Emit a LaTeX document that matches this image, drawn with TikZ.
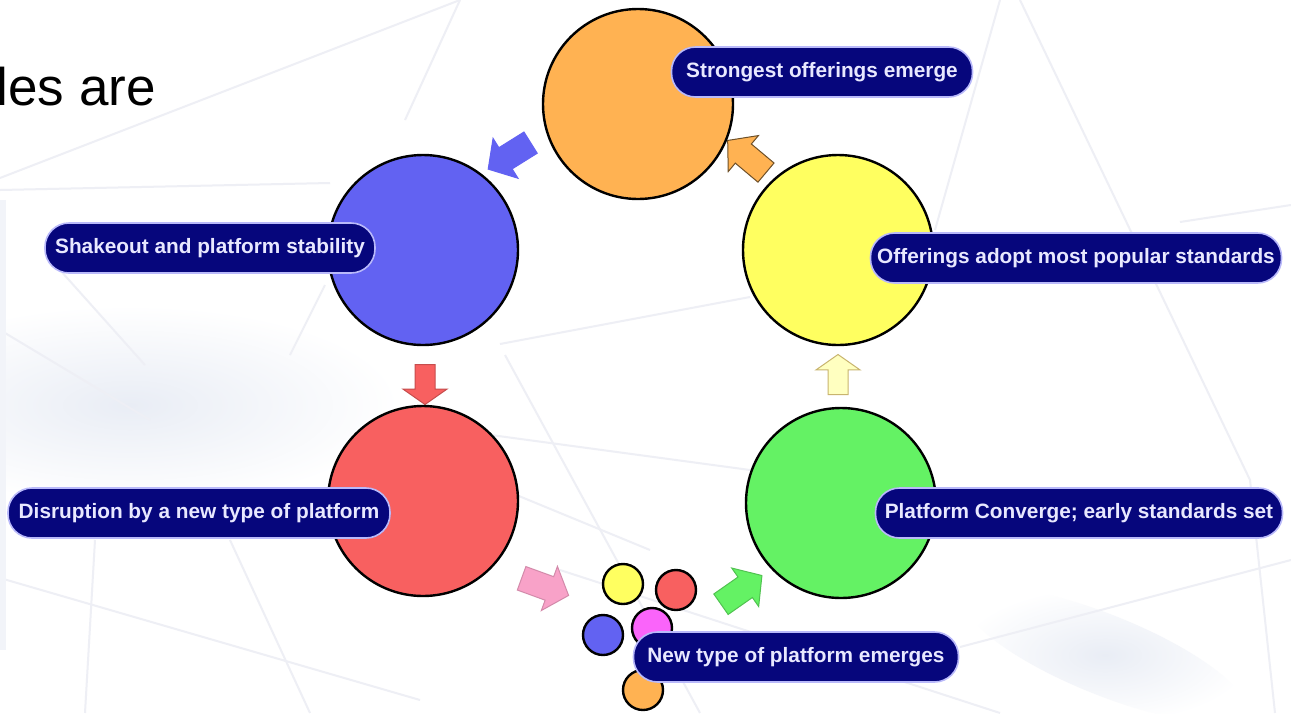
\documentclass[tikz,border=0pt]{standalone}
\usepackage{fontspec}
\setmainfont{Liberation Sans}
\usetikzlibrary{shapes.arrows}
\definecolor{navybox}{RGB}{6,6,124}
\definecolor{tagborder}{RGB}{185,185,250}
\definecolor{tagtext}{RGB}{232,232,255}
\definecolor{corange}{RGB}{255,178,82}
\definecolor{cblue}{RGB}{98,98,242}
\definecolor{cred}{RGB}{248,96,96}
\definecolor{cgreen}{RGB}{100,242,100}
\definecolor{cyellow}{RGB}{255,255,96}
\definecolor{cmagenta}{RGB}{250,100,250}
\definecolor{cpink}{RGB}{248,162,200}
\definecolor{apyellow}{RGB}{255,255,192}
\definecolor{bgline}{RGB}{238,239,245}
\definecolor{bgblue}{RGB}{233,237,245}
\begin{document}
\begin{tikzpicture}[x=1pt,y=-1pt,
  bubble/.style={circle, draw=black, line width=2.4pt, minimum size=190pt, inner sep=0pt},
  dot/.style={circle, draw=black, line width=2.4pt, minimum size=40pt, inner sep=0pt},
  tag/.style={rounded corners=24pt, fill=navybox, draw=tagborder, line width=1.6pt,
     text=tagtext, font=\bfseries\fontsize{20.8}{21}\selectfont, minimum height=50pt, inner sep=0pt},
  barrow/.style={single arrow, minimum height=50pt, inner xsep=0pt, inner ysep=12pt,
     single arrow head extend=11pt, single arrow tip angle=98, line width=1pt},
  varrow/.style={single arrow, minimum height=40pt, inner xsep=0pt, inner ysep=9.5pt,
     single arrow head extend=12pt, single arrow tip angle=110, line width=1pt},
  bgl/.style={draw=bgline, line width=2pt}]
\useasboundingbox (0,0) rectangle (1291,713);
\fill[white] (0,0) rectangle (1291,713);
% faint background
\shade[inner color=bgblue, outer color=white] (130,405) ellipse (270 and 100);
\shade[inner color=bgblue, outer color=white, rotate around={-22:(1105,655)}] (1105,655) ellipse (150 and 40);
\draw[bgl] (0,178) -- (460,0);
\draw[bgl] (460,0) -- (405,120);
\draw[bgl] (0,190) -- (330,183);
\draw[bgl] (0,330) -- (150,420);
\draw[bgl] (60,270) -- (145,365);
\draw[bgl] (325,285) -- (290,355);
\draw[bgl] (0,578) -- (420,700);
\draw[bgl] (95,540) -- (85,713);
\draw[bgl] (230,540) -- (310,713);
\draw[bgl] (500,344) -- (750,297);
\draw[bgl] (505,355) -- (700,713);
\draw[bgl] (380,420) -- (750,470);
\draw[bgl] (480,480) -- (650,550);
\draw[bgl] (1000,0) -- (935,230);
\draw[bgl] (1020,0) -- (1250,480) -- (1275,713);
\draw[bgl] (1180,222) -- (1291,205);
\draw[bgl] (960,647) -- (1291,560);
\draw[bgl] (560,570) -- (1000,713);
\fill[bgblue!60] (0,200) rectangle (6,650);
% title fragment
\node[anchor=base west, inner sep=0pt, font=\fontsize{53}{53}\selectfont] (title) at (-3.5,105) {les are};
% arrows
\node[barrow, fill=cblue, draw=cblue, rotate=212] (a1) at (514,153) {};
\node[varrow, fill=cred, draw=cred!80!black, rotate=-90] (a2) at (425,381) {};
\node[barrow, fill=cpink, draw=cpink!85!black, rotate=-20] (a3) at (540,585) {};
\node[barrow, fill=cgreen, draw=cgreen!80!black, rotate=35] (a4) at (737,593) {};
\node[varrow, fill=apyellow, draw={rgb,255:red,200;green,180;blue,110}, rotate=90] (a5) at (838,378) {};
\node[barrow, fill=corange, draw={rgb,255:red,110;green,80;blue,40}, rotate=140] (a6) at (751,160) {};
% big circles
\node[bubble, fill=corange] (orange) at (638,104) {};
\node[bubble, fill=cblue] (blue) at (423,250) {};
\node[bubble, fill=cred] (red) at (423,501) {};
\node[bubble, fill=cgreen] (green) at (841,503) {};
\node[bubble, fill=cyellow] (yellow) at (838,250) {};
% small circles
\node[dot, fill=cyellow] (s1) at (623,584) {};
\node[dot, fill=cred] (s2) at (676,590) {};
\node[dot, fill=cblue] (s3) at (603,635) {};
\node[dot, fill=cmagenta] (s4) at (652,628) {};
\node[dot, fill=corange] (s5) at (643,690) {};
% labels
\node[tag, minimum width=301pt] (l1) at (822,72) {Strongest offerings emerge};
\node[tag, minimum width=330pt] (l2) at (210,248) {Shakeout and platform stability};
\node[tag, minimum width=411pt] (l3) at (1076,258) {Offerings adopt most popular standards};
\node[tag, minimum width=382pt] (l4) at (199,513) {Disruption by a new type of platform};
\node[tag, minimum width=407pt] (l5) at (1079,513) {Platform Converge; early standards set};
\node[tag, minimum width=325pt] (l6) at (796,657) {New type of platform emerges};
\end{tikzpicture}
\end{document}
